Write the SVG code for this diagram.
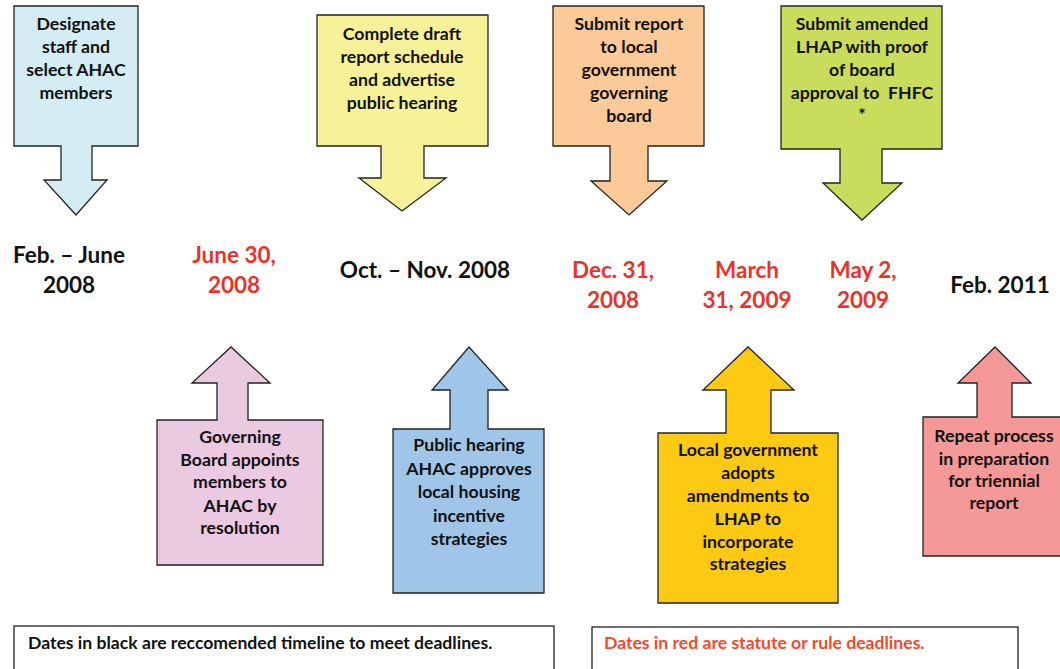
<svg xmlns="http://www.w3.org/2000/svg" width="1060" height="669" viewBox="0 0 1060 669">
<style>
.sh{stroke:#222;stroke-width:1.3}
.t{font-family:Lato,"Liberation Sans",sans-serif;font-weight:bold;font-size:17.7px;fill:#111;text-anchor:middle}
.d{font-family:Lato,"Liberation Sans",sans-serif;font-weight:bold;font-size:22.5px;text-anchor:middle}
.k{fill:#111}
.r{fill:#e8332b}
.lg{font-family:Lato,"Liberation Sans",sans-serif;font-weight:bold;font-size:17.6px}
</style>
<rect width="1060" height="669" fill="#fff"/>
<g id="n1">
<path class="sh" fill="#d4ecf3" d="M14,6H138V146H92V180H107L76,215L44,180H61V146H14Z"/>
<text class="t"><tspan x="76" y="30">Designate</tspan><tspan x="76" y="53">staff and</tspan><tspan x="76" y="76">select AHAC</tspan><tspan x="76" y="99">members</tspan></text>
</g>
<g id="n2">
<path class="sh" fill="#f7f298" d="M317,15H488V146H424V178H446L402,211L359,178H381V146H317Z"/>
<text class="t"><tspan x="402" y="40">Complete draft</tspan><tspan x="402" y="63">report schedule</tspan><tspan x="402" y="86">and advertise</tspan><tspan x="402" y="109">public hearing</tspan></text>
</g>
<g id="n3">
<path class="sh" fill="#fcca98" d="M553,6H704V146H648V181H667L629,215L591,181H610V146H553Z"/>
<text class="t"><tspan x="629" y="30">Submit report</tspan><tspan x="629" y="53">to local</tspan><tspan x="629" y="76">government</tspan><tspan x="629" y="99">governing</tspan><tspan x="629" y="122">board</tspan></text>
</g>
<g id="n4">
<path class="sh" fill="#c9dc5c" d="M781,6H942V149H882V183H902L862,220L823,183H840V149H781Z"/>
<text class="t"><tspan x="862" y="30">Submit amended</tspan><tspan x="862" y="53">LHAP with proof</tspan><tspan x="862" y="76">of board</tspan><tspan x="862" y="99">approval to&#160; FHFC</tspan><tspan x="862" y="121">*</tspan></text>
</g>
<g id="b1">
<path class="sh" fill="#ebc9e1" d="M157,420H217V383H192L231,347L270,383H248V420H323V565H157Z"/>
<text class="t"><tspan x="240" y="443">Governing</tspan><tspan x="240" y="466">Board appoints</tspan><tspan x="240" y="488">members to</tspan><tspan x="240" y="512">AHAC by</tspan><tspan x="240" y="534">resolution</tspan></text>
</g>
<g id="b2">
<path class="sh" fill="#9fc5e8" d="M393,429H450V390H432L469,347L508,390H488V429H544V593H393Z"/>
<text class="t"><tspan x="469" y="451">Public hearing</tspan><tspan x="469" y="475">AHAC approves</tspan><tspan x="469" y="498">local housing</tspan><tspan x="469" y="522">incentive</tspan><tspan x="469" y="545">strategies</tspan></text>
</g>
<g id="b3">
<path class="sh" fill="#fdc912" d="M658,433H726V390H703L748,347L794,390H771V433H838V603H658Z"/>
<text class="t"><tspan x="748" y="456">Local government</tspan><tspan x="748" y="479">adopts</tspan><tspan x="748" y="502">amendments to</tspan><tspan x="748" y="525">LHAP to</tspan><tspan x="748" y="548">incorporate</tspan><tspan x="748" y="570">strategies</tspan></text>
</g>
<g id="b4">
<path class="sh" fill="#f59898" d="M923,417H977V383H958L995,347L1031,383H1012V417H1062V556H923Z"/>
<text class="t"><tspan x="994" y="442">Repeat process</tspan><tspan x="994" y="465">in preparation</tspan><tspan x="994" y="487">for triennial</tspan><tspan x="994" y="509">report</tspan></text>
</g>
<g id="dates">
<text class="d k"><tspan x="69" y="263">Feb. – June</tspan><tspan x="69" y="293">2008</tspan></text>
<text class="d r"><tspan x="234" y="263">June 30,</tspan><tspan x="234" y="293">2008</tspan></text>
<text class="d k" x="425" y="278">Oct. – Nov. 2008</text>
<text class="d r"><tspan x="613" y="278">Dec. 31,</tspan><tspan x="613" y="308">2008</tspan></text>
<text class="d r"><tspan x="747" y="278">March</tspan><tspan x="747" y="308">31, 2009</tspan></text>
<text class="d r"><tspan x="863" y="278">May 2,</tspan><tspan x="863" y="308">2009</tspan></text>
<text class="d k" x="1000" y="293">Feb. 2011</text>
</g>
<g id="legend">
<rect x="14" y="626" width="540" height="50" fill="#fff" stroke="#222" stroke-width="1.3"/>
<text class="lg" x="28" y="649" fill="#111">Dates in black are reccomended timeline to meet deadlines.</text>
<rect x="592" y="627" width="426" height="50" fill="#fff" stroke="#222" stroke-width="1.3"/>
<text class="lg" x="604" y="649" fill="#f04a2a">Dates in red are statute or rule deadlines.</text>
</g>
<g id="connectors"></g>
</svg>
